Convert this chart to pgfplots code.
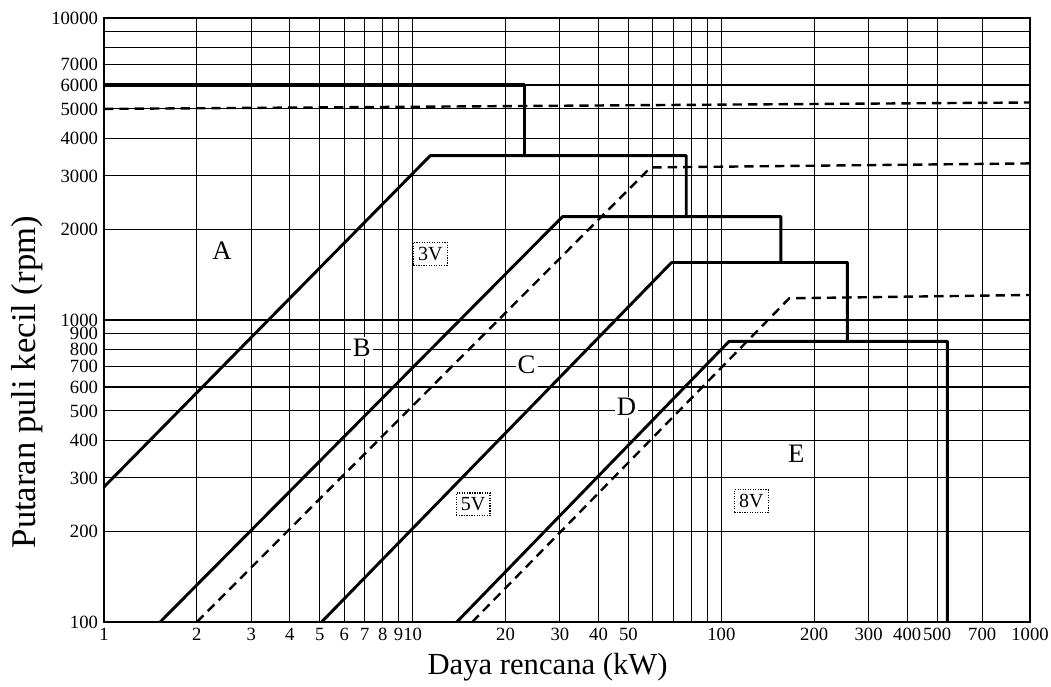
\documentclass[border=0pt]{standalone}
\usepackage{fontspec}
\setmainfont{Liberation Serif}
\usepackage{pgfplots}
\pgfplotsset{compat=1.18}
\begin{document}
\begin{tikzpicture}
\begin{axis}[
  scale only axis, width=694.5pt, height=453pt,
  xmode=log, ymode=log,
  xmin=1, xmax=1000, ymin=100, ymax=10000,
  axis line style={line width=2pt},
  xtick={1,2,3,4,5,6,7,8,9,10,20,30,40,50,60,70,80,90,100,200,300,400,500,700,1000},
  xticklabels={1,2,3,4,5,6,7,8,9,10,20,30,40,50,,,,,100,200,300,400,500,700,1000},
  ytick={100,200,300,400,500,600,700,800,900,1000,2000,3000,4000,5000,6000,7000,8000,9000,10000},
  yticklabels={100,200,300,400,500,600,700,800,900,1000,2000,3000,4000,5000,6000,7000,,,10000},
  xminorticks=false, yminorticks=false,
  major tick length=0pt,
  grid=major,
  major grid style={black, line width=0.8pt},
  xticklabel style={font=\fontsize{14}{14}\selectfont, yshift=-1pt},
  yticklabel style={font=\fontsize{14}{14}\selectfont, xshift=-1pt, inner ysep=0pt},
  xlabel={Daya rencana (kW)},
  ylabel={Putaran puli kecil (rpm)},
  xlabel style={font=\fontsize{23}{23}\selectfont, at={(axis description cs:0.479,-0.0745)}, anchor=center},
  ylabel style={font=\fontsize{26}{26}\selectfont, at={(axis description cs:-0.0832,0.397)}, anchor=center},
  clip=false,
]
% solid boundaries
\addplot[black, line width=2.4pt, line join=round] coordinates {(1,6000) (23,6000) (23,3500)};
\addplot[black, line width=2.2pt, line join=round] coordinates {(1,280) (11.4,3500) (77,3500) (77,2200)};
\addplot[black, line width=2.2pt, line join=round] coordinates {(1.52,100) (30.6,2200) (156,2200) (156,1550)};
\addplot[black, line width=2.2pt, line join=round] coordinates {(5.07,100) (69,1550) (256,1550) (256,850)};
\addplot[black, line width=2.2pt, line join=round] coordinates {(13.9,100) (106,850) (540,850) (540,100)};
% dashed (narrow V-belt) boundaries
\addplot[black, line width=1.8pt, dash pattern=on 7pt off 4.5pt] coordinates {(1,5000) (1000,5250)};
\addplot[black, line width=1.8pt, dash pattern=on 7pt off 4.5pt] coordinates {(2,100) (59,3200) (1000,3300)};
\addplot[black, line width=1.8pt, dash pattern=on 7pt off 4.5pt] coordinates {(15.6,100) (166,1180) (1000,1210)};
% region labels
\node[fill=white, inner sep=1.5pt, font=\fontsize{20}{20}\selectfont] at (axis cs:2.41,1694) {A};
\node[fill=white, inner sep=1.5pt, font=\fontsize{20}{20}\selectfont] at (axis cs:6.84,807) {B};
\node[fill=white, inner sep=1.5pt, font=\fontsize{20}{20}\selectfont] at (axis cs:23.4,708) {C};
\node[fill=white, inner sep=1.5pt, font=\fontsize{20}{20}\selectfont] at (axis cs:49.3,514) {D};
\node[fill=white, inner sep=1.5pt, font=\fontsize{20}{20}\selectfont] at (axis cs:175,361) {E};
% belt type boxes
\node[draw, densely dotted, line width=0.9pt, fill=white, inner sep=3.5pt, font=\fontsize{15}{15}\selectfont] at (axis cs:11.4,1656) {3V};
\node[draw, densely dotted, line width=0.9pt, fill=white, inner sep=3.5pt, font=\fontsize{15}{15}\selectfont] at (axis cs:15.7,245) {5V};
\node[draw, densely dotted, line width=0.9pt, fill=white, inner sep=3.5pt, font=\fontsize{15}{15}\selectfont] at (axis cs:125,251) {8V};
\coordinate (sw) at (rel axis cs:0,0);
\coordinate (ne) at (rel axis cs:1,1);
\end{axis}
\pgfresetboundingbox
\path ([xshift=-78pt,yshift=-48.75pt]sw) rectangle ([xshift=15.75pt,yshift=13.5pt]ne);
\end{tikzpicture}
\end{document}
